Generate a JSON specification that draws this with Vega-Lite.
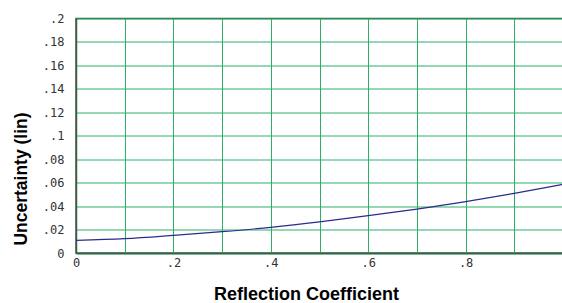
{
  "$schema": "https://vega.github.io/schema/vega-lite/v6.json",
  "width": 487,
  "height": 234.5,
  "autosize": {"type": "none"},
  "padding": {"left": 76, "top": 18.5, "right": 0, "bottom": 50},
  "background": "white",
  "config": {
    "view": {"stroke": "#3b5e4a", "strokeWidth": 1.5},
    "axis": {
      "gridColor": "#2bb068",
      "gridWidth": 1,
      "gridOpacity": 1,
      "domainColor": "#3b5e4a",
      "domainWidth": 1.5,
      "ticks": false,
      "labelFont": "DejaVu Sans Mono",
      "labelFontSize": 12,
      "labelColor": "#333333",
      "titleFont": "Liberation Sans",
      "titleFontWeight": "bold",
      "titleColor": "#000000"
    }
  },
  "data": {
    "values": [
      {"rc": 0.0, "u": 0.0108},
      {"rc": 0.1, "u": 0.0122},
      {"rc": 0.2, "u": 0.0150},
      {"rc": 0.3, "u": 0.0182},
      {"rc": 0.4, "u": 0.0219},
      {"rc": 0.5, "u": 0.0265},
      {"rc": 0.6, "u": 0.0318},
      {"rc": 0.7, "u": 0.0375},
      {"rc": 0.8, "u": 0.0438},
      {"rc": 0.9, "u": 0.0509},
      {"rc": 1.0, "u": 0.0586}
    ]
  },
  "mark": {"type": "line", "color": "#2b2b8f", "strokeWidth": 1.2, "interpolate": "monotone"},
  "encoding": {
    "x": {
      "field": "rc",
      "type": "quantitative",
      "scale": {"domain": [0, 1], "nice": false, "zero": false},
      "axis": {
        "title": "Reflection Coefficient",
        "titleFontSize": 18,
        "tickCount": 10,
        "labelOverlap": false,
        "labelExpr": "round(datum.value*10)%2==1 ? '' : (datum.value==0 ? '0' : substring(format(datum.value,'~g'),1))",
        "labelPadding": 4,
        "labelFlush": false,
        "titleX": 230,
        "titleY": 46,
        "titleAnchor": null,
        "titleBaseline": "alphabetic"
      }
    },
    "y": {
      "field": "u",
      "type": "quantitative",
      "scale": {"domain": [0, 0.2], "nice": false},
      "axis": {
        "title": "Uncertainty (lin)",
        "titleFontSize": 17.5,
        "tickCount": 10,
        "labelOverlap": false,
        "labelExpr": "datum.value==0 ? '0' : substring(format(datum.value,'~g'),1)",
        "labelPadding": 12,
        "labelFlush": false,
        "titleX": -50,
        "titleY": 160,
        "titleAngle": -90,
        "titleBaseline": "alphabetic",
        "titleAlign": "center"
      }
    }
  }
}
